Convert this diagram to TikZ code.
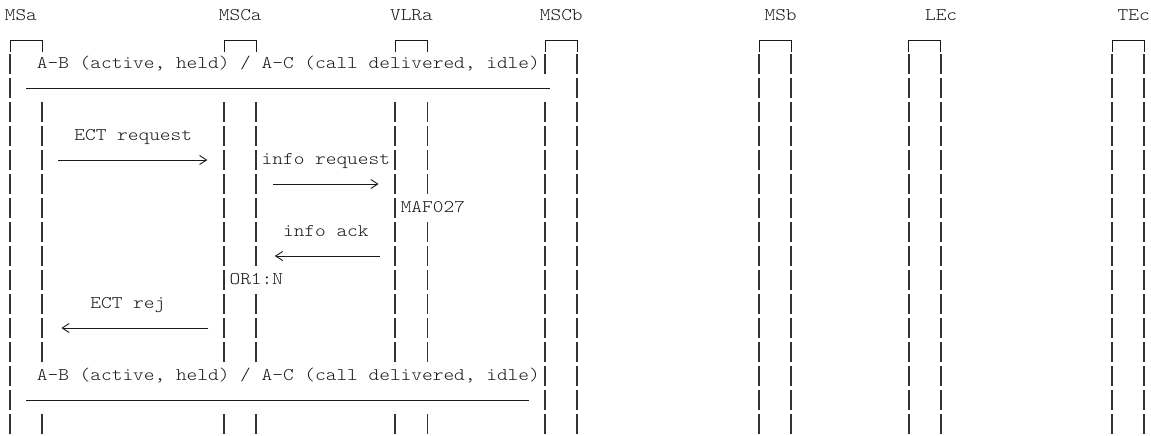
\documentclass[tikz,border=0pt]{standalone}
\usepackage{fontspec}
\newfontfamily\courier{lmmonolt10-regular.otf}[FakeStretch=1.143]
\usetikzlibrary{arrows.meta}

\begin{document}
\begin{tikzpicture}[x=10.7pt, y=-24pt,
		every node/.style={font=\courier\fontsize{17.83}{24}\selectfont, text=black!90},
		cell/.style={inner sep=0pt, anchor=base west, text height=16.5pt, text depth=7.5pt, fill=white},
		bar/.style={draw=black!80, line width=1.6pt, dash pattern=on 19.2pt off 4.8pt},
		rule/.style={draw=black!90, line width=0.9pt},
		msg/.style={rule, -{Straight Barb[length=7pt,width=9pt,line width=0.9pt]}}]
		\useasboundingbox (-4.65pt,4pt) rectangle (1146.35pt,-432pt);
		\def\bl{0.6875};

		% lifelines: name / left column / right column / label column
		\foreach \who/\cl/\cr/\lc in {MSa/0/3/0, MSCa/20/23/20, VLRa/36/39/36, MSCb/50/53/50, MSb/70/73/71, LEc/84/87/86, TEc/103/106/104} {
			\node[cell, fill=none] (\who) at (\lc,\bl) {\who};
			\draw[rule] (\cl+0.5,2) -- (\cl+0.5,1.5) -- (\cr+0.5,1.5) -- (\cr+0.5,2);
			\draw[bar] (\cl+0.5,2.1) -- (\cl+0.5,17.9);
			\draw[bar] (\cr+0.5,2.1) -- (\cr+0.5,17.9);
		}

		% state before
		\node[cell] (before) at (3,2+\bl) {A-B (active, held) / A-C (call delivered, idle)};
		\fill[white] (2,3) rectangle (51,4);
		\draw[rule] (2,3.5) -- (51,3.5);

		% messages
		\node[cell] (ectreq) at (6.5,5+\bl) {ECT request};
		\coordinate (ectreqS) at (5,6.5);
		\coordinate (ectreqE) at (18.95,6.5);
		\draw[msg] (ectreqS) -- (ectreqE);

		\node[cell] (inforeq) at (24,6+\bl) {info request};
		\coordinate (inforeqS) at (25.1,7.5);
		\coordinate (inforeqE) at (34.95,7.5);
		\draw[msg] (inforeqS) -- (inforeqE);

		\node[cell] (maf) at (37,8+\bl) {MAF027};

		\node[cell] (infoack) at (26,9+\bl) {info ack};
		\coordinate (infoackS) at (35.05,10.5);
		\coordinate (infoackE) at (25.25,10.5);
		\draw[msg] (infoackS) -- (infoackE);

		\node[cell] (orone) at (21,11+\bl) {OR1:N};

		\node[cell] (ectrej) at (8,12+\bl) {ECT rej};
		\coordinate (ectrejS) at (19.05,13.5);
		\coordinate (ectrejE) at (5.3,13.5);
		\draw[msg] (ectrejS) -- (ectrejE);

		% state after
		\node[cell] (after) at (3,15+\bl) {A-B (active, held) / A-C (call delivered, idle)};
		\fill[white] (2,16) rectangle (49,17);
		\draw[rule] (2,16.5) -- (49,16.5);
	\end{tikzpicture}
\end{document}
